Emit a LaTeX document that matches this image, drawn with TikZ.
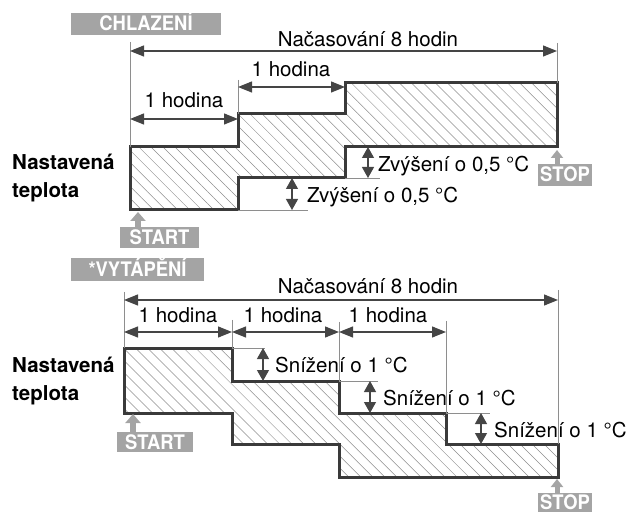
\documentclass[tikz,border=0pt]{standalone}
\usepackage{fontspec}
\setmainfont{TeX Gyre Heros}
\newfontfamily\tagfont[FakeStretch=0.92]{TeX Gyre Heros}
\usetikzlibrary{arrows.meta,patterns.meta}

\definecolor{outline}{HTML}{3A3A3A}
\definecolor{dimgray}{HTML}{454545}
\definecolor{thingray}{HTML}{8E8E8E}
\definecolor{taggray}{HTML}{A4A4A4}

\begin{document}
\begin{tikzpicture}[x=1pt, y=-1pt,
      font=\fontsize{20.5}{24}\selectfont,
      band/.style = {draw=outline, line width=3pt, line join=miter,
        pattern={Lines[angle=-45, distance=8.5pt, line width=0.5pt]},
        pattern color=thingray},
      ext/.style = {draw=thingray, line width=0.8pt},
      dim/.style = {draw=dimgray, line width=1.2pt,
        {Triangle[length=14pt, width=11pt]}-{Triangle[length=14pt, width=11pt]}},
      stepdim/.style = {draw=dimgray, line width=1.2pt,
        {Triangle[length=11pt, width=12pt]}-{Triangle[length=11pt, width=12pt]}},
      tag/.style = {fill=taggray, text=white, inner sep=0pt,
        font=\tagfont\bfseries\fontsize{20}{20}\selectfont,
        text height=14pt, text depth=0pt},
      cue/.style = {draw=taggray, line width=6pt,
        -{Triangle[length=9pt, width=15pt]}},
      setlbl/.style = {anchor=north west, inner sep=0pt, align=left,
        font=\bfseries\fontsize{20.5}{28}\selectfont}]
    \useasboundingbox (0,0) rectangle (627,513);

    % ---------- cooling ----------
    \node[tag, minimum width=150pt, minimum height=22pt] (cool) at (146,24) {CHLAZENÍ};
    \node[setlbl] (kset) at (12,154) {Nastavená\\teplota};

    % band corners
    \coordinate (k1) at (130,147);
    \coordinate (k2) at (238,147);
    \coordinate (k3) at (238,114);
    \coordinate (k4) at (345,114);
    \coordinate (k5) at (345,83);
    \coordinate (k6) at (557,83);
    \coordinate (k7) at (557,147);
    \coordinate (k8) at (345,147);
    \coordinate (k9) at (345,178);
    \coordinate (k10) at (238,178);
    \coordinate (k11) at (238,210);
    \coordinate (k12) at (130,210);
    \draw[band] (k1) -- (k2) -- (k3) -- (k4) -- (k5) -- (k6) -- (k7)
      -- (k8) -- (k9) -- (k10) -- (k11) -- (k12) -- cycle;

    % extension lines
    \coordinate (kt0) at (130,42);
    \coordinate (kt1) at (238,80);
    \coordinate (kt3) at (557,43);
    \coordinate (ke1) at (308,210);
    \coordinate (ke2) at (380,178);
    \draw[ext] (kt0) -- (k1);
    \draw[ext] (kt1) -- (k3);
    \draw[ext] (kt3) -- (k6);
    \draw[ext] (k11) -- (ke1);
    \draw[ext] (k9) -- (ke2);

    % time arrows
    \coordinate (kd0) at (130,51);
    \coordinate (kd1) at (557,51);
    \coordinate (km0) at (130,119);
    \coordinate (km1) at (238,119);
    \coordinate (kn1) at (238,87);
    \coordinate (kn2) at (345,87);
    \draw[dim] (kd0) -- (kd1);
    \draw[dim] (km0) -- (km1);
    \draw[dim] (kn1) -- (kn2);
    \node[anchor=base] (ktot) at (368,47) {Načasování 8 hodin};
    \node[anchor=base] (kh1) at (184,108) {1 hodina};
    \node[anchor=base] (kh2) at (291,77) {1 hodina};

    % rise arrows
    \coordinate (ks1a) at (292,178);
    \coordinate (ks1b) at (292,210);
    \coordinate (ks2a) at (368,147);
    \coordinate (ks2b) at (368,178);
    \draw[stepdim] (ks1a) -- (ks1b);
    \draw[stepdim] (ks2a) -- (ks2b);
    \node[anchor=base west, inner sep=0pt] (kz1) at (307,203) {Zvýšení o 0,5 °C};
    \node[anchor=base west, inner sep=0pt] (kz2) at (378,172) {Zvýšení o 0,5 °C};

    % start / stop
    \node[tag, minimum width=79pt, minimum height=21pt] (kstart) at (159.5,237.5) {START};
    \node[tag, minimum width=54pt, minimum height=22pt] (kstop) at (565,175) {STOP};
    \coordinate (kc1) at (138,227);
    \coordinate (kc2) at (138,212);
    \coordinate (kc3) at (557,164);
    \coordinate (kc4) at (557,150);
    \draw[cue] (kc1) -- (kc2);
    \draw[cue, line width=5pt, -{Triangle[length=8pt, width=12pt]}] (kc3) -- (kc4);

    % ---------- heating ----------
    \node[tag, minimum width=133pt, minimum height=23pt] (heat) at (137.5,269.5) {*VYTÁPĚNÍ};
    \node[setlbl] (hset) at (12,357) {Nastavená\\teplota};

    % band corners
    \coordinate (h1) at (124,348);
    \coordinate (h2) at (232,348);
    \coordinate (h3) at (232,381);
    \coordinate (h4) at (339,381);
    \coordinate (h5) at (339,413);
    \coordinate (h6) at (446,413);
    \coordinate (h7) at (446,444);
    \coordinate (h8) at (558,444);
    \coordinate (h9) at (558,477);
    \coordinate (h10) at (339,477);
    \coordinate (h11) at (339,444);
    \coordinate (h12) at (232,444);
    \coordinate (h13) at (232,413);
    \coordinate (h14) at (124,413);
    \draw[band] (h1) -- (h2) -- (h3) -- (h4) -- (h5) -- (h6) -- (h7)
      -- (h8) -- (h9) -- (h10) -- (h11) -- (h12) -- (h13) -- (h14) -- cycle;

    % extension lines
    \coordinate (ht0) at (124,292);
    \coordinate (ht1) at (232,320);
    \coordinate (ht2) at (339,322);
    \coordinate (ht3) at (446,321);
    \coordinate (ht4) at (558,290);
    \coordinate (he1) at (265,348);
    \coordinate (he2) at (378,381);
    \coordinate (he3) at (490,413);
    \draw[ext] (ht0) -- (h1);
    \draw[ext] (ht1) -- (h2);
    \draw[ext] (ht2) -- (h4);
    \draw[ext] (ht3) -- (h6);
    \draw[ext] (ht4) -- (h8);
    \draw[ext] (h2) -- (he1);
    \draw[ext] (h4) -- (he2);
    \draw[ext] (h6) -- (he3);

    % time arrows
    \coordinate (hd0) at (124,300);
    \coordinate (hd1) at (558,300);
    \coordinate (hm0) at (124,332);
    \coordinate (hm1) at (232,332);
    \coordinate (hm2) at (339,332);
    \coordinate (hm3) at (446,332);
    \draw[dim] (hd0) -- (hd1);
    \draw[dim] (hm0) -- (hm1);
    \draw[dim] (hm1) -- (hm2);
    \draw[dim] (hm2) -- (hm3);
    \node[anchor=base] (htot) at (368,294) {Načasování 8 hodin};
    \node[anchor=base] (hh1) at (178,323) {1 hodina};
    \node[anchor=base] (hh2) at (283,323) {1 hodina};
    \node[anchor=base] (hh3) at (388,323) {1 hodina};

    % drop arrows
    \coordinate (hs1a) at (263,348);
    \coordinate (hs1b) at (263,381);
    \coordinate (hs2a) at (370,381);
    \coordinate (hs2b) at (370,413);
    \coordinate (hs3a) at (481,413);
    \coordinate (hs3b) at (481,444);
    \draw[stepdim] (hs1a) -- (hs1b);
    \draw[stepdim] (hs2a) -- (hs2b);
    \draw[stepdim] (hs3a) -- (hs3b);
    \node[anchor=base west, inner sep=0pt] (hz1) at (275,372) {Snížení o 1 °C};
    \node[anchor=base west, inner sep=0pt] (hz2) at (383,405) {Snížení o 1 °C};
    \node[anchor=base west, inner sep=0pt] (hz3) at (494,437) {Snížení o 1 °C};

    % start / stop
    \node[tag, minimum width=76pt, minimum height=20pt] (hstart) at (155,442) {START};
    \node[tag, minimum width=54pt, minimum height=19pt] (hstop) at (565,502.5) {STOP};
    \coordinate (hc1) at (133,432);
    \coordinate (hc2) at (133,414);
    \coordinate (hc3) at (557,493);
    \coordinate (hc4) at (557,479);
    \draw[cue] (hc1) -- (hc2);
    \draw[cue, line width=5pt, -{Triangle[length=8pt, width=12pt]}] (hc3) -- (hc4);

  \end{tikzpicture}
\end{document}
